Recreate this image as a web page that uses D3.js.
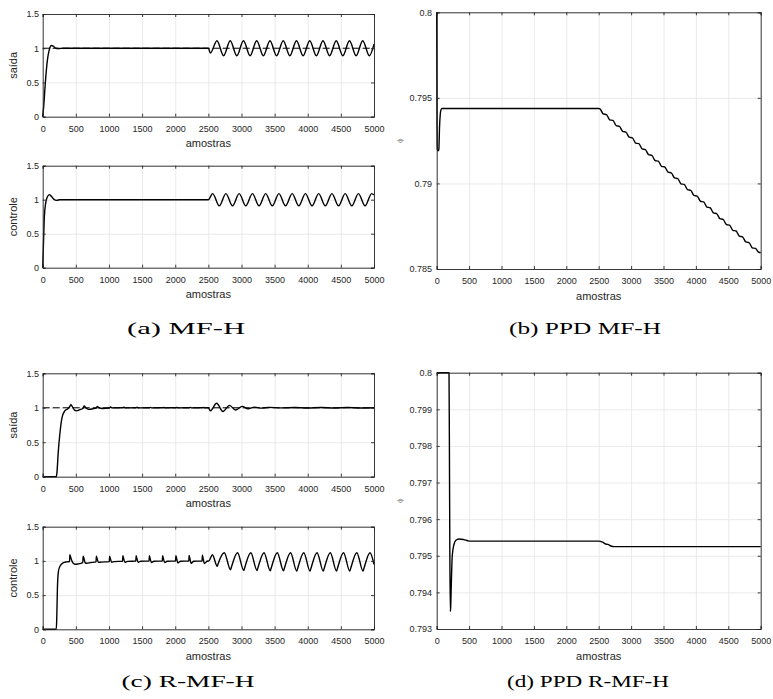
<!DOCTYPE html>
<html>
<head>
<meta charset="utf-8">
<script src="https://cdn.jsdelivr.net/npm/d3@7"></script>
<style>
  body { margin: 0; background: #fff; }
  text { font-family: "Liberation Sans", Arial, sans-serif; }
</style>
</head>
<body>
<svg id="chart" width="773" height="699"></svg>
<script>
// ticks
const xTickVals = [0, 500, 1000, 1500, 2000, 2500, 3000, 3500, 4000, 4500, 5000];
const yTicksUnit = [0, 0.5, 1, 1.5];
const yTicksPhiMFH = [0.785, 0.79, 0.795, 0.8];
const yTicksPhiRMFH = [0.793, 0.794, 0.795, 0.796, 0.797, 0.798, 0.799, 0.8];

// reference (dashed) for the output plots
const referencia = [[0, 1], [5000, 1]];

// (a) MF-H  [amostra, valor]
const saidaMFH = [
  [0, 0], [15, 0.15], [40, 0.5], [70, 0.82], [100, 0.98], [130, 1.04], [160, 1.03], [200, 1.0], [240, 0.995], [300, 1.0],
  [2500, 1.0], [2530, 0.93], [2630, 1.11], [2730, 0.89], [2830, 1.11], [2930, 0.89], [3030, 1.11], [3130, 0.89],
  [3230, 1.11], [3330, 0.89], [3430, 1.11], [3530, 0.89], [3630, 1.11], [3730, 0.89], [3830, 1.11], [3930, 0.89],
  [4030, 1.11], [4130, 0.89], [4230, 1.11], [4330, 0.89], [4430, 1.11], [4530, 0.89], [4630, 1.11], [4730, 0.89],
  [4830, 1.11], [4930, 0.89], [5000, 1.06]
];
const controleMFH = [
  [0, 0], [10, 0.3], [25, 0.75], [45, 0.95], [70, 1.04], [100, 1.075], [130, 1.05], [170, 1.005], [210, 0.99], [260, 1.0],
  [2500, 1.0], [2565, 1.09], [2665, 0.91], [2765, 1.09], [2865, 0.91], [2965, 1.09], [3065, 0.91], [3165, 1.09],
  [3265, 0.91], [3365, 1.09], [3465, 0.91], [3565, 1.09], [3665, 0.91], [3765, 1.09], [3865, 0.91], [3965, 1.09],
  [4065, 0.91], [4165, 1.09], [4265, 0.91], [4365, 1.09], [4465, 0.91], [4565, 1.09], [4665, 0.91], [4765, 1.09],
  [4865, 0.91], [4965, 1.09], [5000, 1.07]
];

// (b) PPD MF-H
const phiMFH = [
  [0, 0.8], [5, 0.7935], [10, 0.792], [20, 0.7919], [32, 0.79195], [45, 0.7934], [60, 0.7942], [80, 0.79438],
  [2500, 0.79438], [2520, 0.79436], [2570, 0.79406], [2620, 0.79402], [2670, 0.79372], [2720, 0.79368],
  [2770, 0.79338], [2820, 0.79334], [2870, 0.79304], [2920, 0.793], [2970, 0.7927], [3020, 0.79266],
  [3070, 0.79236], [3120, 0.79232], [3170, 0.79202], [3220, 0.79198], [3270, 0.79168], [3320, 0.79164],
  [3370, 0.79134], [3420, 0.7913], [3470, 0.791], [3520, 0.79096], [3570, 0.79066], [3620, 0.79062],
  [3670, 0.79032], [3720, 0.79028], [3770, 0.78998], [3820, 0.78994], [3870, 0.78964], [3920, 0.7896],
  [3970, 0.7893], [4020, 0.78926], [4070, 0.78896], [4120, 0.78892], [4170, 0.78862], [4220, 0.78858],
  [4270, 0.78828], [4320, 0.78824], [4370, 0.78794], [4420, 0.7879], [4470, 0.7876], [4520, 0.78756],
  [4570, 0.78726], [4620, 0.78722], [4670, 0.78692], [4720, 0.78688], [4770, 0.78658], [4820, 0.78654],
  [4870, 0.78624], [4920, 0.7862], [4970, 0.78598], [5000, 0.78596]
];

// (c) R-MF-H
const saidaRMFH = [
  [0, 0], [205, 0], [215, 0.06], [235, 0.36], [260, 0.63], [290, 0.85], [330, 0.95], [380, 0.985], [410, 1.02],
  [425, 1.045], [445, 1.02], [480, 0.965], [510, 0.955], [560, 0.972], [605, 0.99], [625, 1.028], [650, 1.0],
  [690, 0.977], [760, 0.985], [805, 0.995], [825, 1.018], [850, 1.0], [900, 0.99], [1005, 0.997], [1025, 1.012],
  [1050, 0.998], [1205, 1.0], [1225, 1.01], [1250, 0.998], [1405, 1.0], [1425, 1.008], [1450, 0.998], [1605, 1.0],
  [1625, 1.006], [1650, 0.999], [1805, 1.0], [1825, 1.006], [1850, 0.999], [2005, 1.0], [2025, 1.005], [2050, 0.999],
  [2205, 1.0], [2225, 1.005], [2250, 0.999], [2405, 1.0], [2425, 1.005], [2450, 0.999], [2500, 1.0], [2530, 0.955],
  [2625, 1.065], [2720, 0.945], [2820, 1.035], [2910, 0.968], [3010, 1.02], [3100, 0.985], [3200, 1.01], [3300, 0.995],
  [3420, 1.005], [3600, 0.998], [3800, 1.004], [4000, 0.997], [4200, 1.004], [4400, 0.997], [4600, 1.004],
  [4800, 0.997], [5000, 1.0]
];
const controleRMFH = [
  [0, 0], [205, 0], [212, 0.15], [222, 0.6], [238, 0.85], [265, 0.93], [305, 0.97], [360, 0.985], [405, 0.99],
  [410, 1.09], [420, 1.06], [445, 0.99], [485, 0.95], [530, 0.955], [605, 0.975], [610, 1.07], [620, 1.045],
  [640, 0.975], [665, 0.965], [720, 0.975], [805, 0.985], [810, 1.07], [820, 1.04], [840, 0.978], [880, 0.982],
  [1005, 0.99], [1010, 1.07], [1020, 1.04], [1040, 0.98], [1080, 0.99], [1205, 0.995], [1210, 1.075], [1220, 1.04],
  [1240, 0.98], [1280, 0.993], [1405, 0.997], [1410, 1.075], [1420, 1.04], [1440, 0.98], [1480, 0.995],
  [1605, 0.998], [1610, 1.075], [1620, 1.04], [1640, 0.975], [1680, 0.995], [1805, 0.998], [1810, 1.075],
  [1820, 1.04], [1840, 0.975], [1880, 0.995], [2005, 0.998], [2010, 1.075], [2020, 1.04], [2040, 0.97],
  [2080, 0.995], [2205, 0.998], [2210, 1.08], [2220, 1.04], [2240, 0.965], [2280, 0.995], [2405, 0.998],
  [2410, 1.085], [2420, 1.04], [2440, 0.96], [2480, 0.995], [2510, 1.0], [2560, 1.09], [2635, 0.92], [2645, 0.95],
  [2740, 1.12], [2835, 0.87], [2845, 0.9], [2940, 1.12], [3035, 0.86], [3045, 0.89], [3140, 1.12], [3235, 0.86],
  [3245, 0.89], [3340, 1.12], [3435, 0.855], [3445, 0.885], [3540, 1.12], [3635, 0.855], [3645, 0.885],
  [3740, 1.12], [3835, 0.85], [3845, 0.88], [3940, 1.12], [4035, 0.85], [4045, 0.88], [4140, 1.12], [4235, 0.85],
  [4245, 0.88], [4340, 1.12], [4435, 0.85], [4445, 0.88], [4540, 1.12], [4635, 0.85], [4645, 0.88], [4740, 1.12],
  [4835, 0.85], [4845, 0.88], [4940, 1.12], [5000, 0.95]
];

// (d) PPD R-MF-H
const phiRMFH = [
  [0, 0.8], [190, 0.8], [196, 0.798], [203, 0.795], [210, 0.79348], [216, 0.7936], [225, 0.7942], [240, 0.795],
  [265, 0.7953], [300, 0.79543], [350, 0.79546], [420, 0.79544], [480, 0.79541], [520, 0.7954], [2500, 0.7954],
  [2560, 0.79537], [2610, 0.79532], [2640, 0.79531], [2700, 0.79526], [2730, 0.79525], [5000, 0.79525]
];

const captions = ["(a) MF-H", "(b) PPD MF-H", "(c) R-MF-H", "(d) PPD R-MF-H"];

const axisColor = "#262626", gridColor = "#e4e4e4";
const svg = d3.select("#chart");

const panels = [
  { data: saidaMFH, ref: true, box: [42.7, 14, 374, 116.7], y: [0, 1.5], yTicks: yTicksUnit, yLabel: "saída" },
  { data: controleMFH, box: [42.7, 165.7, 374, 267.7], y: [0, 1.5], yTicks: yTicksUnit, yLabel: "controle" },
  { data: phiMFH, box: [436.7, 12.3, 760.7, 269], y: [0.785, 0.8], yTicks: yTicksPhiMFH, yLabel: "ϕ", phi: true },
  { data: saidaRMFH, ref: true, box: [42.7, 373.3, 374, 476.7], y: [0, 1.5], yTicks: yTicksUnit, yLabel: "saída" },
  { data: controleRMFH, box: [42.7, 526.7, 374, 629.3], y: [0, 1.5], yTicks: yTicksUnit, yLabel: "controle" },
  { data: phiRMFH, box: [436.7, 372.7, 760.7, 629], y: [0.793, 0.8], yTicks: yTicksPhiRMFH, yLabel: "ϕ", phi: true }
];

panels.forEach(function (p, i) {
  const [l, t, r, b] = p.box;
  const x = d3.scaleLinear().domain([0, 5000]).range([l, r]);
  const y = d3.scaleLinear().domain(p.y).range([b, t]);
  const g = svg.append("g");

  // grid
  const gx = g.append("g").attr("transform", "translate(0," + b + ")")
    .call(d3.axisBottom(x).tickValues(xTickVals).tickSize(-(b - t)).tickFormat(""));
  const gy = g.append("g").attr("transform", "translate(" + l + ",0)")
    .call(d3.axisLeft(y).tickValues(p.yTicks).tickSize(-(r - l)).tickFormat(""));
  [gx, gy].forEach(function (a) {
    a.select(".domain").remove();
    a.selectAll("line").attr("stroke", gridColor).attr("stroke-width", 0.8);
  });

  // data
  g.append("clipPath").attr("id", "clip" + i)
    .append("rect").attr("x", l - 1).attr("y", t - 1).attr("width", r - l + 2).attr("height", b - t + 2);
  const line = d3.line().x(d => x(d[0])).y(d => y(d[1])).curve(d3.curveMonotoneX);
  if (p.ref) {
    g.append("path").datum(referencia).attr("d", line).attr("fill", "none")
      .attr("stroke", "#000").attr("stroke-width", 1).attr("stroke-dasharray", "7,3")
      .attr("clip-path", "url(#clip" + i + ")");
  }
  g.append("path").datum(p.data).attr("d", line).attr("fill", "none")
    .attr("stroke", "#000").attr("stroke-width", 1.4).attr("stroke-linejoin", "round")
    .attr("clip-path", "url(#clip" + i + ")");

  // axes with inward ticks on all sides
  const fmt = d => String(d);
  const ab = g.append("g").attr("transform", "translate(0," + b + ")")
    .call(d3.axisBottom(x).tickValues(xTickVals).tickSize(-3).tickPadding(0).tickFormat(fmt));
  ab.selectAll("text").attr("y", 15).attr("dy", null);
  const at = g.append("g").attr("transform", "translate(0," + t + ")")
    .call(d3.axisTop(x).tickValues(xTickVals).tickSize(-3).tickFormat(""));
  const al = g.append("g").attr("transform", "translate(" + l + ",0)")
    .call(d3.axisLeft(y).tickValues(p.yTicks).tickSize(-3).tickPadding(p.phi ? 4.7 : 3.7).tickFormat(fmt));
  const ar = g.append("g").attr("transform", "translate(" + r + ",0)")
    .call(d3.axisRight(y).tickValues(p.yTicks).tickSize(-3).tickFormat(""));
  [ab, at, al, ar].forEach(function (a) {
    a.select(".domain").attr("stroke", axisColor).attr("stroke-width", 0.9);
    a.selectAll("line").attr("stroke", axisColor).attr("stroke-width", 0.9);
    a.selectAll("text").attr("fill", axisColor).style("font-size", "9px")
      .style("font-family", "'Liberation Sans', Arial, sans-serif");
  });

  // labels
  g.append("text").attr("x", (l + r) / 2).attr("y", b + 30.5).attr("text-anchor", "middle")
    .attr("fill", axisColor).style("font-size", "11px").text("amostras");
  if (p.phi) {
    g.append("text").attr("transform", "translate(402," + ((t + b) / 2) + ") rotate(-90)")
      .attr("text-anchor", "middle").attr("fill", "#808080").style("font-size", "8px").text(p.yLabel);
  } else {
    g.append("text").attr("transform", "translate(16.5," + ((t + b) / 2) + ") rotate(-90)")
      .attr("text-anchor", "middle").attr("fill", axisColor).style("font-size", "11px").text(p.yLabel);
  }
});

// sub-captions
const capPos = [[186, 334, 118], [585, 334, 152], [188, 687, 133], [588, 687, 162]];
svg.selectAll("text.cap").data(captions).join("text").attr("class", "cap")
  .attr("x", (d, i) => capPos[i][0]).attr("y", (d, i) => capPos[i][1])
  .attr("text-anchor", "middle")
  .attr("textLength", (d, i) => capPos[i][2]).attr("lengthAdjust", "spacingAndGlyphs")
  .style("font-family", "'Liberation Serif', 'Times New Roman', serif").style("font-size", "17px")
  .attr("fill", "#000").text(d => d);
</script>
</body>
</html>
